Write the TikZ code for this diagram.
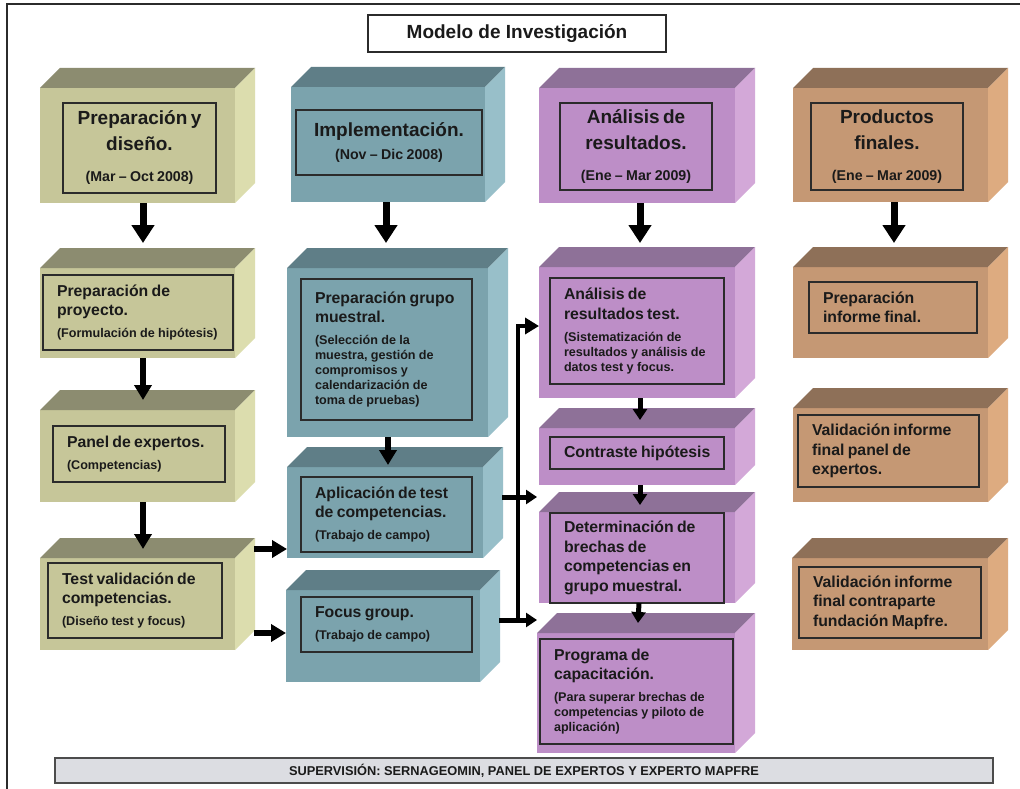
\documentclass[tikz,border=0pt]{standalone}
\usepackage{fontspec}
\setmainfont{Liberation Sans}
\usetikzlibrary{arrows.meta}
\definecolor{txt}{HTML}{1A1A1A}
\definecolor{edge}{HTML}{2B2B2B}
\definecolor{olF}{HTML}{C6C699}
\definecolor{olT}{HTML}{8C8C70}
\definecolor{olR}{HTML}{DCDDAE}
\definecolor{tlF}{HTML}{7BA3AD}
\definecolor{tlT}{HTML}{5F7E87}
\definecolor{tlR}{HTML}{98BFC9}
\definecolor{puF}{HTML}{BD8EC7}
\definecolor{puT}{HTML}{8E7198}
\definecolor{puR}{HTML}{D3A8D8}
\definecolor{tnF}{HTML}{C59874}
\definecolor{tnT}{HTML}{8E7058}
\definecolor{tnR}{HTML}{DDAB80}
\definecolor{barfill}{HTML}{DCDDE2}
\tikzset{
  face/.style={draw=none, inner sep=0pt, outer sep=0pt},
  inbox/.style={draw=edge, line width=1.4pt, inner sep=0pt, outer sep=0pt},
  bodytext/.style={inner sep=0pt, outer sep=0pt, align=left, font=\bfseries, text=txt},
  headtext/.style={inner sep=0pt, outer sep=0pt, align=center, font=\bfseries, text=txt},
  bigflow/.style={draw=black, line width=7pt, -{Triangle[length=18pt,width=22pt]}},
  flow/.style={draw=black, line width=6.5pt, -{Triangle[length=15pt,width=17pt]}},
  smallflow/.style={draw=black, line width=5pt, -{Triangle[length=11pt,width=14pt]}},
  barflow/.style={draw=black, line width=4pt, -{Triangle[length=14pt,width=16pt]}},
  frame/.style={draw=edge, line width=1.5pt},
  titlebox/.style={draw=edge, line width=1.4pt, fill=white, inner sep=0pt, font=\bfseries\fontsize{19}{22}\selectfont, text=txt},
  supbar/.style={draw=black!70, line width=2pt, fill=barfill, inner sep=0pt, font=\bfseries\fontsize{12.8}{15}\selectfont, text=txt}
}
\newcommand\blockbox[6]{%
  \pgfmathsetmacro\bw{(#4)-(#2)}%
  \pgfmathsetmacro\bh{(#5)-(#3)}%
  \node[face, fill=#6F, minimum width=\bw pt, minimum height=\bh pt] (#1) at ({((#2)+(#4))/2},{((#3)+(#5))/2}) {};
  \fill[#6T] (#1.north west) -- ++(20,-20) -- ++(\bw,0) -- (#1.north east) -- cycle;
  \fill[#6R] (#1.north east) -- ++(20,-20) -- ++(0,\bh) -- (#1.south east) -- cycle;
}
\newcommand\bodybox[6]{%
  \pgfmathsetmacro\iw{(#4)-(#2)}%
  \pgfmathsetmacro\ih{(#5)-(#3)}%
  \pgfmathsetmacro\tw{(#4)-(#2)-16}%
  \node[inbox, minimum width=\iw pt, minimum height=\ih pt] (#1) at ({((#2)+(#4))/2},{((#3)+(#5))/2}) {};
  \node[bodytext, text width=\tw pt, anchor=west] (#1t) at ([xshift=14pt]#1.west) {#6};
}
\newcommand\headbox[6]{%
  \pgfmathsetmacro\iw{(#4)-(#2)}%
  \pgfmathsetmacro\ih{(#5)-(#3)}%
  \pgfmathsetmacro\tw{(#4)-(#2)-6}%
  \node[inbox, minimum width=\iw pt, minimum height=\ih pt] (#1) at ({((#2)+(#4))/2},{((#3)+(#5))/2}) {};
  \node[headtext, text width=\tw pt] (#1t) at (#1.center) {#6};
}
\newcommand\mainT[1]{{\fontsize{15.8}{19.5}\selectfont #1\par}}
\newcommand\subT[1]{\vspace{7pt}{\fontsize{12.6}{15}\selectfont #1\par}}
\newcommand\bigT[1]{{\fontsize{19}{26}\selectfont #1\par}}
\newcommand\dateT[2]{\vspace{#1}{\fontsize{14.2}{17}\selectfont #2\par}}
\begin{document}
\begin{tikzpicture}[x=1pt,y=-1pt]
\useasboundingbox (0,0) rectangle (1020,789);
\clip (0,0) rectangle (1020,789);
\fill[white] (0,0) rectangle (1020,789);
\draw[frame] (7,4) rectangle (1030,800);

\node[titlebox, minimum width=298pt, minimum height=37pt] (title) at (517,33.5) {Modelo de Investigación};

% ---- column 1 (olive)
\blockbox{c1h}{40}{88}{235}{203}{ol}
\headbox{c1hi}{63}{103}{216}{193}{\bigT{Preparación y\\diseño.}\dateT{14pt}{(Mar – Oct 2008)}}
\blockbox{c1b}{40}{268}{235}{358}{ol}
\bodybox{c1bi}{43}{275}{233}{350}{\mainT{Preparación de\\proyecto.}\subT{(Formulación de hipótesis)}}
\blockbox{c1c}{40}{410}{235}{502}{ol}
\bodybox{c1ci}{53}{426}{225}{482}{\mainT{Panel de expertos.}\subT{(Competencias)}}
\blockbox{c1d}{40}{558}{235}{650}{ol}
\bodybox{c1di}{48}{563}{222}{638}{\mainT{Test validación de\\competencias.}\subT{(Diseño test y focus)}}

% ---- column 2 (teal)
\blockbox{c2h}{291}{87}{485}{202}{tl}
\headbox{c2hi}{296}{110}{482}{175}{\bigT{Implementación.}\dateT{6pt}{(Nov – Dic 2008)}}
\blockbox{c2b}{287}{268}{488}{437}{tl}
\bodybox{c2bi}{301}{279}{472}{420}{\mainT{Preparación grupo\\muestral.}\subT{(Selección de la\\muestra, gestión de\\compromisos y\\calendarización de\\toma de pruebas)}}
\blockbox{c2c}{287}{467}{483}{558}{tl}
\bodybox{c2ci}{301}{477}{472}{552}{\mainT{Aplicación de test\\de competencias.}\subT{(Trabajo de campo)}}
\blockbox{c2d}{286}{590}{480}{682}{tl}
\bodybox{c2di}{301}{597}{472}{652}{\mainT{Focus group.}\subT{(Trabajo de campo)}}

% ---- column 3 (purple)
\blockbox{c3h}{539}{88}{735}{203}{pu}
\headbox{c3hi}{560}{103}{712}{190}{\bigT{Análisis de\\resultados.}\dateT{14pt}{(Ene – Mar 2009)}}
\blockbox{c3b}{539}{267}{735}{398}{pu}
\bodybox{c3bi}{550}{278}{724}{384}{\mainT{Análisis de\\resultados test.}\subT{(Sistematización de\\resultados y análisis de\\datos test y focus.}}
\blockbox{c3c}{539}{428}{735}{485}{pu}
\bodybox{c3ci}{550}{437}{724}{469}{\mainT{Contraste hipótesis}}
\blockbox{c3d}{539}{512}{735}{603}{pu}
\bodybox{c3di}{550}{513}{724}{603}{\mainT{Determinación de\\brechas de\\competencias en\\grupo muestral.}}
\blockbox{c3e}{537}{633}{735}{753}{pu}
\bodybox{c3ei}{540}{639}{733}{744}{\mainT{Programa de\\capacitación.}\subT{(Para superar brechas de\\competencias y piloto de\\aplicación)}}

% ---- column 4 (tan)
\blockbox{c4h}{793}{88}{988}{202}{tn}
\headbox{c4hi}{811}{103}{963}{190}{\bigT{Productos\\finales.}\dateT{14pt}{(Ene – Mar 2009)}}
\blockbox{c4b}{793}{267}{988}{358}{tn}
\bodybox{c4bi}{809}{282}{977}{333}{\mainT{Preparación\\informe final.}}
\blockbox{c4c}{793}{408}{988}{502}{tn}
\bodybox{c4ci}{798}{415}{979}{487}{\mainT{Validación informe\\final panel de\\expertos.}}
\blockbox{c4d}{792}{558}{988}{650}{tn}
\bodybox{c4di}{799}{567}{981}{638}{\mainT{Validación informe\\final contraparte\\fundación Mapfre.}}

% ---- vertical arrows
\draw[bigflow] ([xshift=5.5pt]c1h.south) -- ([xshift=5.5pt,yshift=25pt]c1b.north);
\draw[bigflow] ([xshift=-2pt]c2h.south) -- ([xshift=-1.5pt,yshift=25pt]c2b.north);
\draw[bigflow] ([xshift=3pt]c3h.south) -- ([xshift=3pt,yshift=24pt]c3b.north);
\draw[bigflow] ([xshift=3.5pt]c4h.south) -- ([xshift=3.5pt,yshift=24pt]c4b.north);
\draw[flow] ([xshift=5.5pt]c1b.south) -- ([xshift=5.5pt,yshift=10pt]c1c.north);
\draw[flow] ([xshift=5.5pt]c1c.south) -- ([xshift=5.5pt,yshift=9pt]c1d.north);
\draw[flow] ([xshift=0.5pt]c2b.south) -- ([xshift=3pt,yshift=2pt]c2c.north);
\draw[smallflow] ([xshift=3pt]c3b.south) -- ([xshift=3pt,yshift=8pt]c3c.north);
\draw[smallflow] ([xshift=3pt]c3c.south) -- ([xshift=3pt,yshift=7pt]c3d.north);
\draw[smallflow] ([xshift=2pt]c3d.south) -- ([xshift=2pt,yshift=10pt]c3e.north);

% ---- horizontal arrows from column 1 to column 2
\draw[flow] ([xshift=19pt,yshift=9pt]c1d.east |- c2c.south) -- ([yshift=9pt]c2c.south west);
\draw[flow] ([xshift=19pt,yshift=3pt]c1d.east |- c2d.west) -- ([yshift=3pt]c2d.west);

% ---- merge bar into column 3
\coordinate (mtop) at (518,326);
\coordinate (mbot) at (518,622);
\draw[smallflow] ([xshift=19pt,yshift=15.5pt]c2c.east) -- ([xshift=19pt,yshift=15.5pt]c2c.east -| mtop);
\draw[smallflow] ([xshift=19pt,yshift=16pt]c2d.east) -- ([xshift=19pt,yshift=16pt]c2d.east -| mtop);
\draw[barflow] (mbot) -- (mtop) -- (mtop -| c3b.west);

% ---- supervision bar
\node[supbar, minimum width=938pt, minimum height=25pt] (sup) at (524,770.5) {SUPERVISIÓN: SERNAGEOMIN, PANEL DE EXPERTOS Y EXPERTO MAPFRE};
\end{tikzpicture}
\end{document}
